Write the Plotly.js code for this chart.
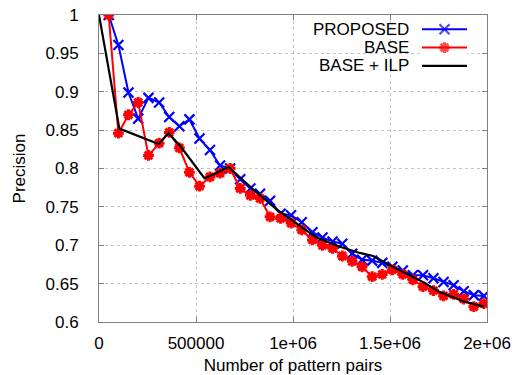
<!DOCTYPE html>
<html>
<head>
<meta charset="utf-8">
<script src="https://cdn.plot.ly/plotly-3.0.1.min.js"></script>
<style>html,body{margin:0;padding:0;background:#fff;}#chart{width:513px;height:375px;}</style>
</head>
<body>
<div id="chart"></div>
<script>
// Number of pattern pairs (shared x for PROPOSED and BASE)
const pairs = [50000, 100000, 152000, 202000, 255000, 310000, 362000, 414000, 466000, 518000,
  572000, 624000, 676000, 728000, 780000, 830000, 882000, 936000, 990000, 1045000,
  1100000, 1152000, 1204000, 1254000, 1305000, 1356000, 1408000, 1460000, 1512000, 1566000,
  1618000, 1670000, 1724000, 1776000, 1828000, 1880000, 1932000, 1984000];
const proposed = [1.0, 0.961, 0.899, 0.865, 0.892, 0.886, 0.867, 0.855, 0.864, 0.839,
  0.824, 0.804, 0.800, 0.786, 0.774, 0.767, 0.758, 0.741, 0.739, 0.730,
  0.717, 0.710, 0.705, 0.702, 0.689, 0.681, 0.680, 0.677, 0.672, 0.667,
  0.661, 0.661, 0.657, 0.652, 0.648, 0.640, 0.635, 0.634];
const base = [1.0, 0.846, 0.870, 0.886, 0.817, 0.833, 0.847, 0.827, 0.795, 0.777,
  0.789, 0.794, 0.800, 0.774, 0.765, 0.761, 0.737, 0.735, 0.729, 0.720,
  0.707, 0.700, 0.696, 0.686, 0.679, 0.672, 0.659, 0.662, 0.668, 0.662,
  0.655, 0.646, 0.641, 0.634, 0.636, 0.630, 0.620, 0.624];
// BASE + ILP
const ilpX = [0, 105000, 307000, 358000, 420000, 544000, 668000, 794000, 914000, 1035000,
  1121000, 1242000, 1344000, 1413000, 1499000, 1671000, 1757000, 1877000, 1984000];
const ilpY = [1.0, 0.852, 0.832, 0.846, 0.829, 0.787, 0.802, 0.773, 0.747, 0.726,
  0.710, 0.698, 0.690, 0.686, 0.674, 0.652, 0.639, 0.627, 0.620];

const seriesNames = ["PROPOSED", "BASE", "BASE + ILP"];
const xTitle = "Number of pattern pairs";
const yTitle = "Precision";
const xTickVals = [0, 500000, 1000000, 1500000, 2000000];
const xTickText = ["0", "500000", "1e+06", "1.5e+06", "2e+06"];
const yTickVals = [0.6, 0.65, 0.7, 0.75, 0.8, 0.85, 0.9, 0.95, 1];
const yTickText = ["0.6", "0.65", "0.7", "0.75", "0.8", "0.85", "0.9", "0.95", "1"];
// legend key sample positions (in the key's own little axis)
const keyX = [0, 0.5, 1];
const keyRows = [2.5, 1.5, 0.5];

const FONT = "Liberation Sans, Arial, Helvetica, sans-serif";
const blueMarker = {symbol: "x-thin-open", size: 10, line: {color: "#0000ff", width: 2.2}, color: "#0000ff"};
const redMarker = {symbol: "asterisk-open", size: 9, line: {color: "#ff0000", width: 3}, color: "#ff0000"};

const traces = [
  {x: pairs, y: proposed, type: "scatter", mode: "lines+markers", name: seriesNames[0],
   line: {color: "#0000ff", width: 2}, marker: blueMarker, showlegend: false},
  {x: pairs, y: base, type: "scatter", mode: "lines+markers", name: seriesNames[1],
   line: {color: "#ff0000", width: 2}, marker: redMarker, showlegend: false},
  {x: ilpX, y: ilpY, type: "scatter", mode: "lines", name: seriesNames[2],
   line: {color: "#000000", width: 2.2}, showlegend: false},
  // legend keys
  {x: keyX, y: keyX.map(() => keyRows[0]), xaxis: "x2", yaxis: "y2", type: "scatter", mode: "lines+markers",
   line: {color: "#0000ff", width: 2}, marker: Object.assign({}, blueMarker, {size: [0, 10, 0]}), showlegend: false, hoverinfo: "skip"},
  {x: keyX, y: keyX.map(() => keyRows[1]), xaxis: "x2", yaxis: "y2", type: "scatter", mode: "lines+markers",
   line: {color: "#ff0000", width: 2}, marker: Object.assign({}, redMarker, {size: [0, 9, 0]}), showlegend: false, hoverinfo: "skip"},
  {x: keyX, y: keyX.map(() => keyRows[2]), xaxis: "x2", yaxis: "y2", type: "scatter", mode: "lines",
   line: {color: "#000000", width: 2.2}, showlegend: false, hoverinfo: "skip"}
];

const axisCommon = {
  showline: true, linecolor: "#808080", linewidth: 1, mirror: "ticks",
  ticks: "inside", ticklen: 5, tickcolor: "#808080", tickwidth: 1,
  showgrid: true, gridcolor: "#c4c4c4", griddash: "dot", gridwidth: 1,
  zeroline: false, tickfont: {family: FONT, size: 17, color: "#000"}
};

const legendText = seriesNames.map((n, i) => ({
  text: n, xref: "paper", x: 0.804, xanchor: "right", yref: "y2", y: keyRows[i], yanchor: "middle",
  showarrow: false, font: {family: FONT, size: 17, color: "#000"}
}));

const layout = {
  width: 513, height: 375,
  margin: {l: 99, r: 26, t: 15, b: 53},
  paper_bgcolor: "#fff", plot_bgcolor: "#fff",
  font: {family: FONT, size: 17, color: "#000"},
  xaxis: Object.assign({}, axisCommon, {
    range: [0, 2000000], tickvals: xTickVals, ticktext: xTickText, ticklabelstandoff: 6,
    title: {text: xTitle, font: {family: FONT, size: 17}, standoff: 6}
  }),
  yaxis: Object.assign({}, axisCommon, {
    range: [0.6, 1], tickvals: yTickVals, ticktext: yTickText, ticklabelstandoff: 16,
    title: {text: yTitle, font: {family: FONT, size: 17}, standoff: 15}
  }),
  xaxis2: {domain: [0.8325, 0.9485], range: [0, 1], anchor: "y2", visible: false, fixedrange: true},
  yaxis2: {domain: [0.8043, 0.9835], range: [0, 3], anchor: "x2", visible: false, fixedrange: true},
  annotations: legendText,
  showlegend: false
};

Plotly.newPlot("chart", traces, layout, {displayModeBar: false, staticPlot: true});
</script>
</body>
</html>
